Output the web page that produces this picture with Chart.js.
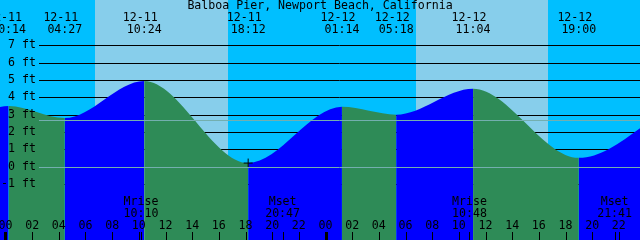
<!DOCTYPE html>
<html>
<head>
<meta charset="utf-8">
<script src="https://cdn.jsdelivr.net/npm/chart.js@4"></script>
<style>
body { margin: 0; background: #fff; }
canvas { display: block; }
</style>
</head>
<body>
<canvas id="myChart" width="640" height="240"></canvas>
<script>
// Tide data (highs and lows)
const tideDates = ['12-10', '12-11', '12-11', '12-11', '12-11', '12-12', '12-12', '12-12', '12-12', '12-13']
const tideClock = ['17:20', '00:14', '04:27', '10:24', '18:12', '01:14', '05:18', '11:04', '19:00', '02:12']
const tideFeet = [0.3, 3.5, 2.8, 4.95, 0.2, 3.45, 3.0, 4.5, 0.5, 3.6]

// sunrise / sunset
const sunDates = ['12-11', '12-11', '12-12', '12-12']
const sunClock = ['06:43', '16:41', '06:47', '16:42']

// moon rise / set
const moonNames = ['Mrise', 'Mset', 'Mrise', 'Mset']
const moonDates = ['12-11', '12-11', '12-12', '12-12']
const moonClock = ['10:10', '20:47', '10:48', '21:41']

// marker
const markDate = '12-11'
const markClock = '18:12'
const markFeet = 0.2

const yTicks = [7, 6, 5, 4, 3, 2, 1, 0, -1]
const refLevels = [2.7, 0]
const hourLabels = ['00', '02', '04', '06', '08', '10', '12', '14', '16', '18', '20', '22',
                    '00', '02', '04', '06', '08', '10', '12', '14', '16', '18', '20', '22']

const title = 'Balboa Pier, Newport Beach, California'

const NIGHT = '#00bfff'
const DAY = '#87ceeb'
const RISE = '#0000ff'
const FALL = '#2e8b57'
const FONT = '11.6px "DejaVu Sans Mono", "Liberation Mono", monospace'

function toHours(d, c) {
    var day = parseInt(d.split('-')[1]) - 11
    var p = c.split(':')
    return day * 24 + parseInt(p[0]) + parseInt(p[1]) / 60
}

var tidePoints = []
for (var i = 0; i < tideFeet.length; i++) {
    tidePoints.push({x: toHours(tideDates[i], tideClock[i]), y: tideFeet[i]})
}

// Background, grid lines, labels
const decor = {
    id: 'decor',
    beforeDatasetsDraw(chart) {
        const ctx = chart.ctx
        const xs = chart.scales.x
        const ys = chart.scales.y
        const a = chart.chartArea
        ctx.save()
        ctx.fillStyle = NIGHT
        ctx.fillRect(0, 0, chart.width, chart.height)
        ctx.fillStyle = DAY
        for (var i = 0; i < sunClock.length; i += 2) {
            var x1 = xs.getPixelForValue(toHours(sunDates[i], sunClock[i]))
            var x2 = xs.getPixelForValue(toHours(sunDates[i + 1], sunClock[i + 1]))
            ctx.fillRect(Math.round(x1), 0, Math.round(x2) - Math.round(x1), chart.height)
        }
        ctx.strokeStyle = '#000'
        ctx.lineWidth = 1
        for (var v of yTicks) {
            var y = Math.round(ys.getPixelForValue(v)) + 0.5
            ctx.beginPath()
            ctx.moveTo(39, y)
            ctx.lineTo(a.right, y)
            ctx.stroke()
        }
        ctx.restore()
    },
    afterDatasetsDraw(chart) {
        const ctx = chart.ctx
        const xs = chart.scales.x
        const ys = chart.scales.y
        const a = chart.chartArea
        ctx.save()
        ctx.strokeStyle = 'rgb(115,175,175)'
        ctx.lineWidth = 1
        for (var v of refLevels) {
            var y = Math.round(ys.getPixelForValue(v)) + 0.5
            ctx.beginPath()
            ctx.moveTo(39, y)
            ctx.lineTo(a.right, y)
            ctx.stroke()
        }

        ctx.fillStyle = '#000'
        ctx.font = FONT
        ctx.textBaseline = 'middle'

        // y labels
        ctx.textAlign = 'right'
        for (var v of yTicks) {
            ctx.fillText(v + ' ft', 36, ys.getPixelForValue(v))
        }

        ctx.textAlign = 'center'
        ctx.fillText(title, 320, 6)

        // high / low times on top
        for (var i = 0; i < tideClock.length; i++) {
            var x = xs.getPixelForValue(toHours(tideDates[i], tideClock[i]))
            ctx.fillText(tideDates[i], x - 4, 17.5)
            ctx.fillText(tideClock[i], x, 29.5)
        }

        // moon
        ctx.strokeStyle = '#000'
        for (var i = 0; i < moonNames.length; i++) {
            var h = toHours(moonDates[i], moonClock[i])
            var x = xs.getPixelForValue(h)
            ctx.fillText(moonNames[i], x, 202)
            ctx.fillText(moonClock[i], x, 214)
            var tx = Math.round(x) + 0.5
            ctx.beginPath()
            ctx.moveTo(tx, 232)
            ctx.lineTo(tx, 240)
            ctx.stroke()
        }

        // hour ticks
        for (var i = 0; i < hourLabels.length; i++) {
            var x = xs.getPixelForValue(i * 2)
            ctx.fillText(hourLabels[i], x, 225.5)
            var tx = Math.round(x) + 0.5
            ctx.lineWidth = hourLabels[i] == '00' ? 3 : 1
            ctx.beginPath()
            ctx.moveTo(tx, 232)
            ctx.lineTo(tx, 240)
            ctx.stroke()
        }
        ctx.restore()
    }
}

const data = {
    datasets: [{
        type: 'scatter',
        data: [{x: toHours(markDate, markClock), y: markFeet}],
        pointStyle: 'cross',
        pointRadius: 4.5,
        borderColor: '#000',
        borderWidth: 1,
        order: 0
    }, {
        type: 'line',
        data: tidePoints,
        cubicInterpolationMode: 'monotone',
        borderWidth: 0,
        borderColor: 'rgba(0,0,0,0)',
        pointRadius: 0,
        backgroundColor: FALL,
        fill: 'start',
        order: 1,
        segment: {
            backgroundColor: ctx => ctx.p1.parsed.y > ctx.p0.parsed.y ? RISE : FALL
        }
    }]
}

const config = {
    type: 'line',
    data: data,
    options: {
        responsive: false,
        animation: false,
        devicePixelRatio: 1,
        layout: { padding: 0, autoPadding: false },
        elements: { line: { capBezierPoints: false } },
        plugins: { legend: { display: false }, tooltip: { enabled: false } },
        scales: {
            x: { type: 'linear', min: -0.4125, max: 47.5875, display: false },
            y: { min: -4.25, max: 9.63, display: false }
        }
    },
    plugins: [decor]
}

const myChart = new Chart(document.getElementById('myChart'), config)
</script>
</body>
</html>
